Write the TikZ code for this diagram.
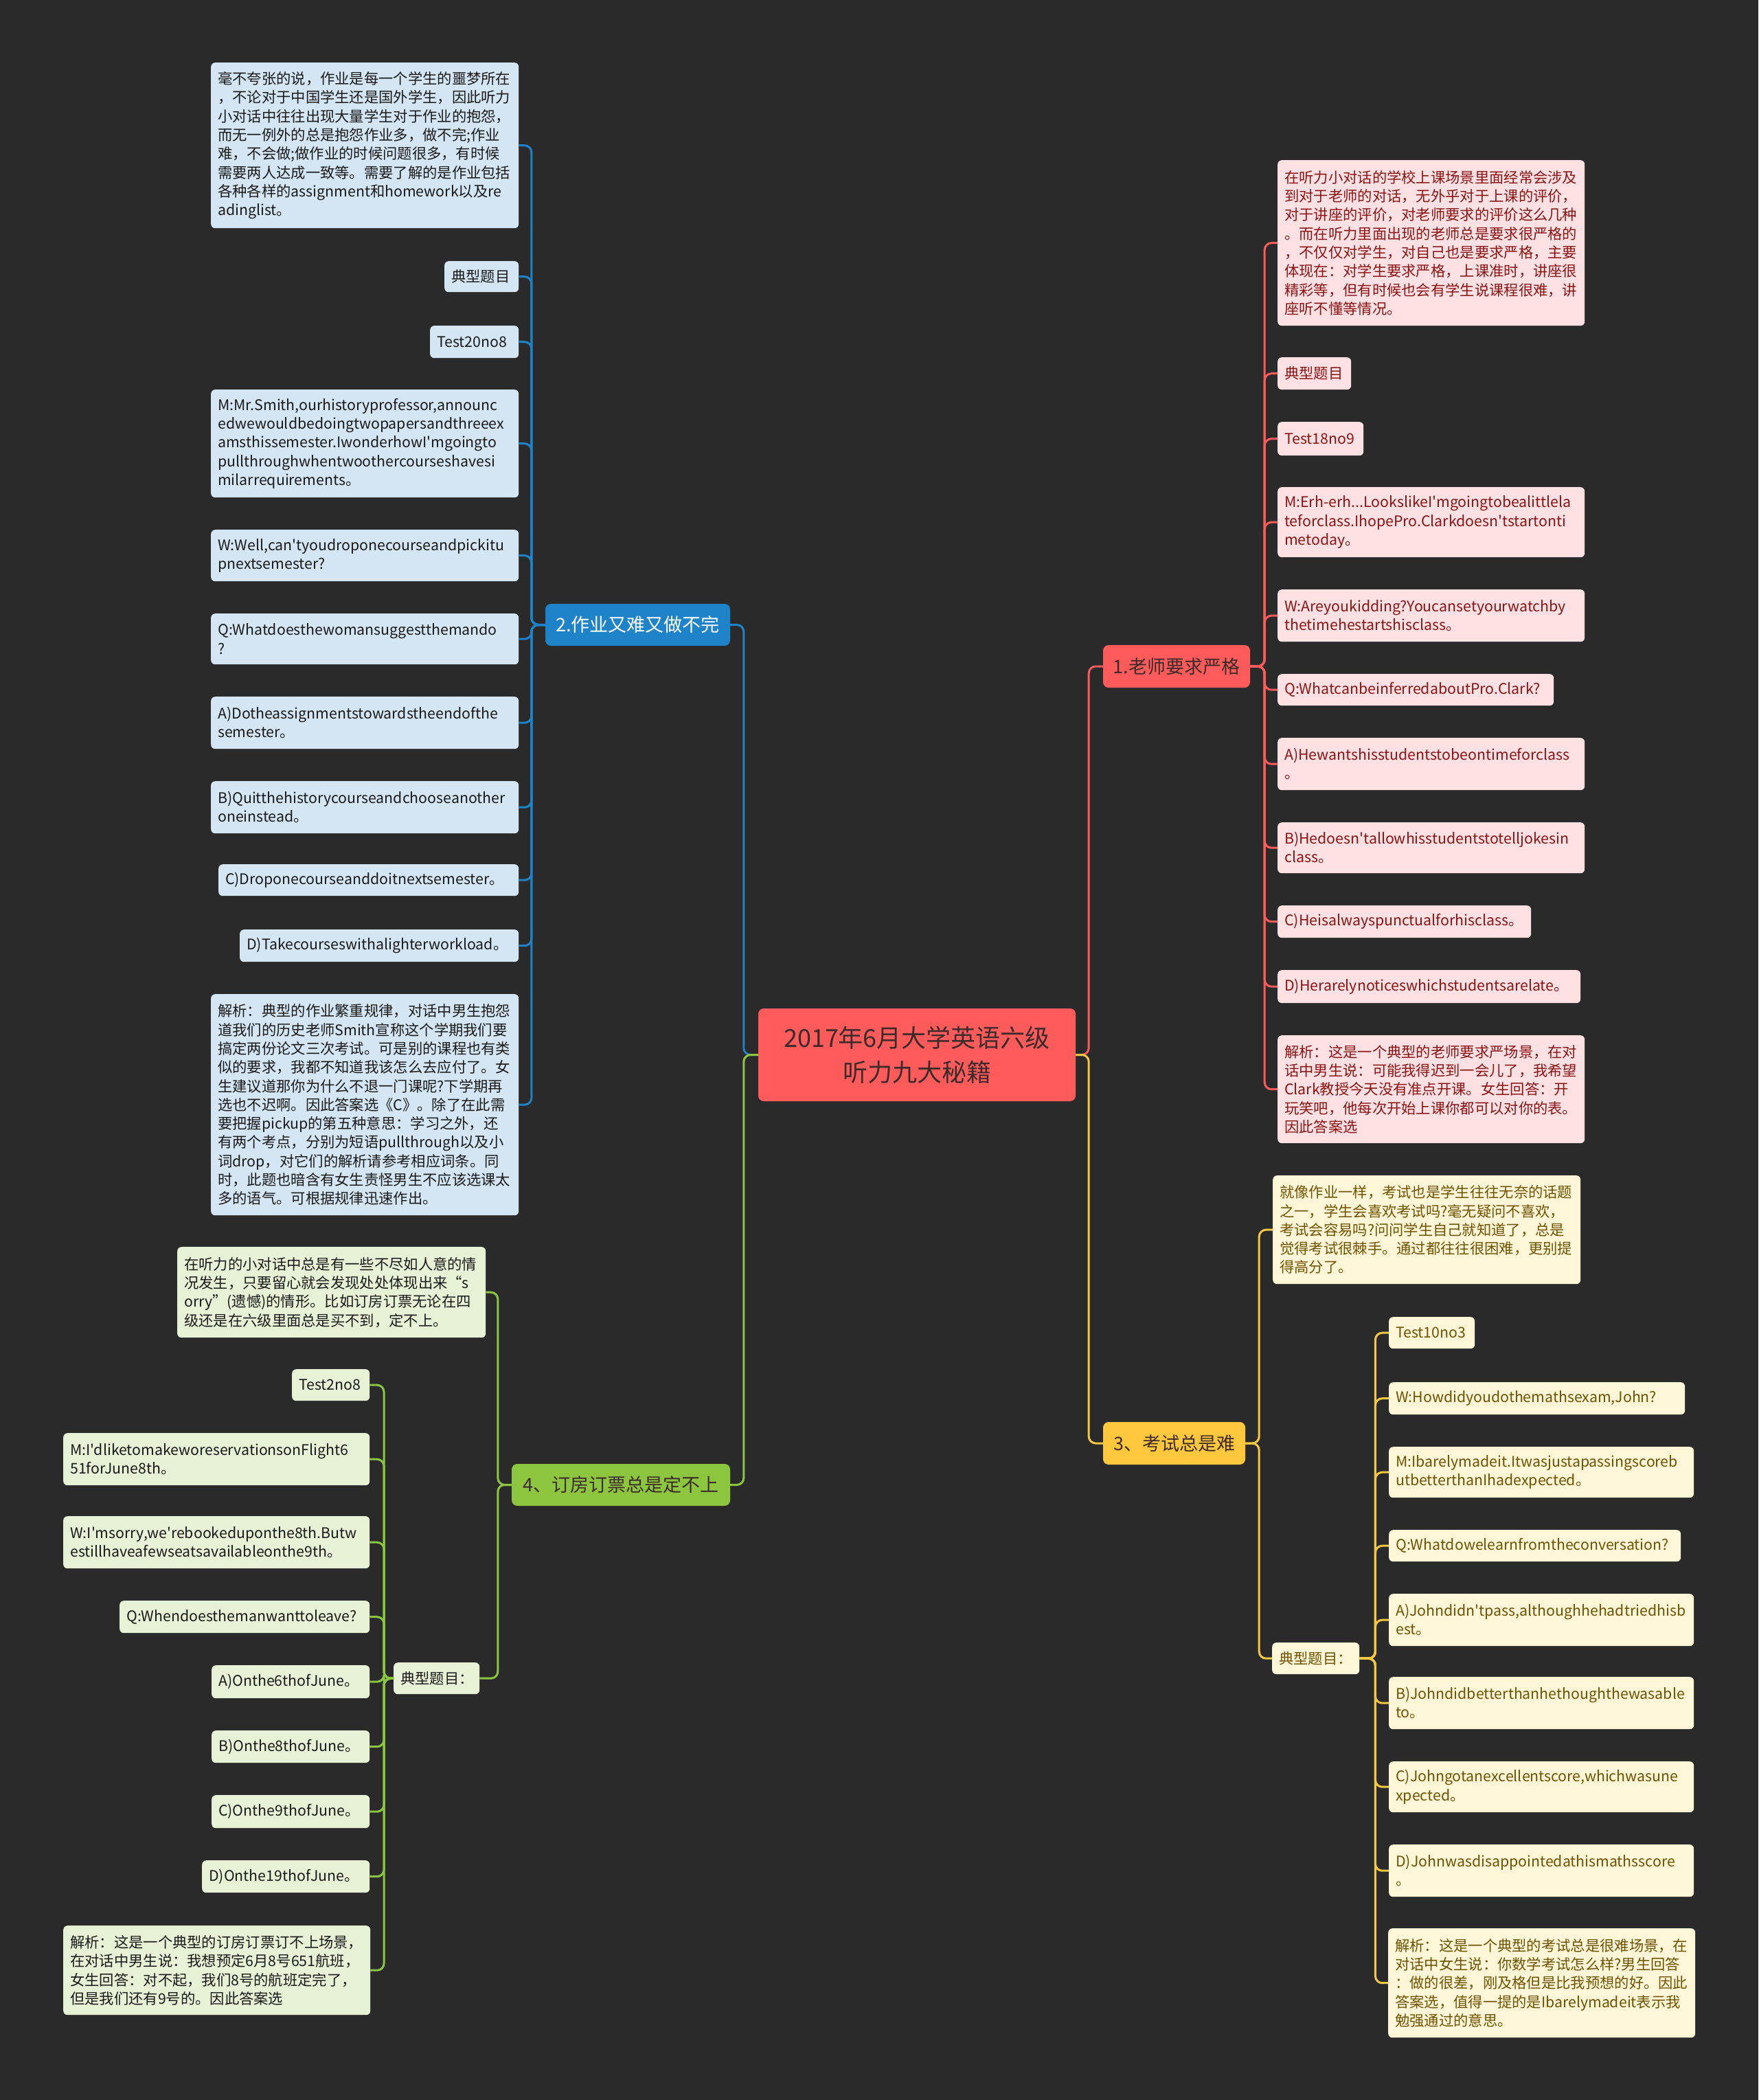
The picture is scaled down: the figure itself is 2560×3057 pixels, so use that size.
\documentclass[tikz,border=0pt]{standalone}
\usepackage{fontspec}
\setmainfont{Noto Sans CJK SC}
\newfontfamily\cjkf{Noto Sans CJK SC}
\definecolor{bgc}{HTML}{2A2A2A}
\definecolor{redF}{HTML}{FF5B5B}
\definecolor{darkT}{HTML}{3D2B2B}
\definecolor{blueF}{HTML}{1F83C9}
\definecolor{yelF}{HTML}{FFC83C}
\definecolor{yelL}{HTML}{F5C842}
\definecolor{grnF}{HTML}{8CC63F}
\definecolor{pkF}{HTML}{FFE1E4}
\definecolor{pkT}{HTML}{8A1414}
\definecolor{lbF}{HTML}{D4E6F3}
\definecolor{lyF}{HTML}{FFF6D8}
\definecolor{lyT}{HTML}{6E5200}
\definecolor{lgF}{HTML}{E6F1D5}
\definecolor{leafT}{HTML}{1A1A1A}
\newcommand\mmleaf[6]{\node[#1, minimum width=#4, minimum height=#5, text width=\the\numexpr#4-20\relax pt] (#2) at (#3) {#6};}
\begin{document}
\begin{tikzpicture}[x=1pt,y=-1pt,
  leaf/.style={anchor=north west, rounded corners=6, inner xsep=10, inner ysep=4, align=left, font=\cjkf\fontsize{21.3pt}{27.3pt}\selectfont},
  lp/.style={leaf, fill=pkF, text=pkT},
  lb/.style={leaf, fill=lbF, text=leafT},
  ly/.style={leaf, fill=lyF, text=lyT},
  lg/.style={leaf, fill=lgF, text=leafT},
  br/.style={rounded corners=8, inner sep=0, align=center, font=\cjkf\fontsize{27pt}{32pt}\selectfont},
  cn/.style={line width=3, rounded corners=10},
  cR/.style={cn, draw=redF},
  cB/.style={cn, draw=blueF},
  cY/.style={cn, draw=yelL},
  cG/.style={cn, draw=grnF}]
\fill[bgc] (0,0) rectangle (2560,3057);
\useasboundingbox (0,0) rectangle (2560,3057);

% central and main branches
\node[br, fill=redF, text=darkT, minimum width=462, minimum height=135, font=\cjkf\fontsize{36pt}{50pt}\selectfont] (c) at (1335,1535.5) {2017年6月大学英语六级\\听力九大秘籍};
\node[br, fill=redF, text=darkT, minimum width=214, minimum height=62] (b1) at (1713,970) {1.老师要求严格};
\node[br, fill=blueF, text=white, minimum width=269, minimum height=61] (b2) at (928.5,909.5) {2.作业又难又做不完};
\node[br, fill=yelF, text=darkT, minimum width=207, minimum height=62] (b3) at (1709.5,2101) {3、考试总是难};
\node[br, fill=grnF, text=darkT, minimum width=318, minimum height=61] (b4) at (904,2161.5) {4、订房订票总是定不上};

% branch 1 leaves
\mmleaf{lp}{l1a}{1860,233}{447}{241}{在听力小对话的学校上课场景里面经常会涉及\\到对于老师的对话，无外乎对于上课的评价，\\对于讲座的评价，对老师要求的评价这么几种\\。而在听力里面出现的老师总是要求很严格的\\，不仅仅对学生，对自己也是要求严格，主要\\体现在：对学生要求严格，上课准时，讲座很\\精彩等，但有时候也会有学生说课程很难，讲\\座听不懂等情况。}
\mmleaf{lp}{l1b}{1860,520}{107}{47}{典型题目}
\mmleaf{lp}{l1c}{1860,614}{125}{49}{Test18no9}
\mmleaf{lp}{l1d}{1860,709}{447}{102}{M:Erh-erh...LookslikeI'mgoingtobealittlela\\teforclass.IhopePro.Clarkdoesn'tstartonti\\metoday。}
\mmleaf{lp}{l1e}{1860,858}{447}{76}{W:Areyoukidding?Youcansetyourwatchby\\thetimehestartshisclass。}
\mmleaf{lp}{l1f}{1860,981}{402}{46}{Q:WhatcanbeinferredaboutPro.Clark?}
\mmleaf{lp}{l1g}{1860,1074}{447}{76}{A)Hewantshisstudentstobeontimeforclass\\。}
\mmleaf{lp}{l1h}{1860,1197}{447}{74}{B)Hedoesn'tallowhisstudentstotelljokesin\\class。}
\mmleaf{lp}{l1i}{1860,1318}{369}{47}{C)Heisalwayspunctualforhisclass。}
\mmleaf{lp}{l1j}{1860,1412}{441}{48}{D)Herarelynoticeswhichstudentsarelate。}
\mmleaf{lp}{l1k}{1860,1507}{447}{157}{解析：这是一个典型的老师要求严场景，在对\\话中男生说：可能我得迟到一会儿了，我希望\\Clark教授今天没有准点开课。女生回答：开\\玩笑吧，他每次开始上课你都可以对你的表。\\因此答案选}

% branch 2 leaves
\mmleaf{lb}{l2a}{307,91}{448}{241}{毫不夸张的说，作业是每一个学生的噩梦所在\\，不论对于中国学生还是国外学生，因此听力\\小对话中往往出现大量学生对于作业的抱怨，\\而无一例外的总是抱怨作业多，做不完;作业\\难，不会做;做作业的时候问题很多，有时候\\需要两人达成一致等。需要了解的是作业包括\\各种各样的assignment和homework以及re\\adinglist。}
\mmleaf{lb}{l2b}{647,380}{108}{45}{典型题目}
\mmleaf{lb}{l2c}{626,474}{129}{47}{Test20no8}
\mmleaf{lb}{l2d}{307,567}{448}{157}{M:Mr.Smith,ourhistoryprofessor,announc\\edwewouldbedoingtwopapersandthreeex\\amsthissemester.IwonderhowI'mgoingto\\pullthroughwhentwoothercourseshavesi\\milarrequirements。}
\mmleaf{lb}{l2e}{307,771}{448}{75}{W:Well,can'tyoudroponecourseandpickitu\\pnextsemester?}
\mmleaf{lb}{l2f}{307,893}{448}{74}{Q:Whatdoesthewomansuggestthemando\\?}
\mmleaf{lb}{l2g}{307,1014}{448}{76}{A)Dotheassignmentstowardstheendofthe\\semester。}
\mmleaf{lb}{l2h}{307,1137}{448}{76}{B)Quitthehistorycourseandchooseanother\\oneinstead。}
\mmleaf{lb}{l2i}{318,1258}{437}{46}{C)Droponecourseanddoitnextsemester。}
\mmleaf{lb}{l2j}{349,1353}{406}{47}{D)Takecourseswithalighterworkload。}
\mmleaf{lb}{l2k}{307,1447}{448}{322}{解析：典型的作业繁重规律，对话中男生抱怨\\道我们的历史老师Smith宣称这个学期我们要\\搞定两份论文三次考试。可是别的课程也有类\\似的要求，我都不知道我该怎么去应付了。女\\生建议道那你为什么不退一门课呢?下学期再\\选也不迟啊。因此答案选《C》。除了在此需\\要把握pickup的第五种意思：学习之外，还\\有两个考点，分别为短语pullthrough以及小\\词drop，对它们的解析请参考相应词条。同\\时，此题也暗含有女生责怪男生不应该选课太\\多的语气。可根据规律迅速作出。}

% branch 3 leaves
\mmleaf{ly}{l3a}{1853,1711}{448}{158}{就像作业一样，考试也是学生往往无奈的话题\\之一，学生会喜欢考试吗?毫无疑问不喜欢，\\考试会容易吗?问问学生自己就知道了，总是\\觉得考试很棘手。通过都往往很困难，更别提\\得高分了。}
\mmleaf{ly}{l3b}{1852,2391}{127}{46}{典型题目：}
\mmleaf{ly}{s3a}{2022,1917}{125}{46}{Test10no3}
\mmleaf{ly}{s3b}{2022,2012}{431}{47}{W:Howdidyoudothemathsexam,John?}
\mmleaf{ly}{s3c}{2022,2106}{444}{74}{M:Ibarelymadeit.Itwasjustapassingscoreb\\utbetterthanIhadexpected。}
\mmleaf{ly}{s3d}{2022,2227}{425}{46}{Q:Whatdowelearnfromtheconversation?}
\mmleaf{ly}{s3e}{2022,2320}{444}{76}{A)Johndidn'tpass,althoughhehadtriedhisb\\est。}
\mmleaf{ly}{s3f}{2022,2441}{444}{76}{B)Johndidbetterthanhethoughthewasable\\to。}
\mmleaf{ly}{s3g}{2022,2564}{444}{74}{C)Johngotanexcellentscore,whichwasune\\xpected。}
\mmleaf{ly}{s3h}{2022,2685}{444}{76}{D)Johnwasdisappointedathismathsscore\\。}
\mmleaf{ly}{s3i}{2021,2807}{447}{159}{解析：这是一个典型的考试总是很难场景，在\\对话中女生说：你数学考试怎么样?男生回答\\：做的很差，刚及格但是比我预想的好。因此\\答案选，值得一提的是Ibarelymadeit表示我\\勉强通过的意思。}

% branch 4 leaves
\mmleaf{lg}{l4a}{258,1815}{449}{132}{在听力的小对话中总是有一些不尽如人意的情\\况发生，只要留心就会发现处处体现出来“s\\orry”(遗憾)的情形。比如订房订票无论在四\\级还是在六级里面总是买不到，定不上。}
\mmleaf{lg}{l4b}{573,2420}{125}{46}{典型题目：}
\mmleaf{lg}{s4a}{425,1993}{113}{46}{Test2no8}
\mmleaf{lg}{s4b}{92,2086}{446}{76}{M:I'dliketomakeworeservationsonFlight6\\51forJune8th。}
\mmleaf{lg}{s4c}{92,2207}{446}{76}{W:I'msorry,we'rebookeduponthe8th.Butw\\estillhaveafewseatsavailableonthe9th。}
\mmleaf{lg}{s4d}{174,2330}{364}{47}{Q:Whendoesthemanwanttoleave?}
\mmleaf{lg}{s4e}{308,2424}{230}{48}{A)Onthe6thofJune。}
\mmleaf{lg}{s4f}{308,2519}{230}{47}{B)Onthe8thofJune。}
\mmleaf{lg}{s4g}{308,2613}{230}{48}{C)Onthe9thofJune。}
\mmleaf{lg}{s4h}{294,2708}{244}{47}{D)Onthe19thofJune。}
\mmleaf{lg}{s4i}{92,2803}{447}{130}{解析：这是一个典型的订房订票订不上场景，\\在对话中男生说：我想预定6月8号651航班，\\女生回答：对不起，我们8号的航班定完了，\\但是我们还有9号的。因此答案选}

% connectors
\draw[cR] (c.east) -- ++(19,0) |- (b1.west);
\draw[cY] (c.east) -- ++(19,0) |- (b3.west);
\draw[cB] (c.west) -- ++(-21,0) |- (b2.east);
\draw[cG] (c.west) -- ++(-21,0) |- (b4.east);
\foreach \n in {l1a,l1b,l1c,l1d,l1e,l1f,l1g,l1h,l1i,l1j,l1k}
  \draw[cR] (b1.east) -- ++(21,0) |- (\n.west);
\foreach \n in {l2a,l2b,l2c,l2d,l2e,l2f,l2g,l2h,l2i,l2j,l2k}
  \draw[cB] (b2.west) -- ++(-20,0) |- (\n.east);
\foreach \n in {l3a,l3b}
  \draw[cY] (b3.east) -- ++(20,0) |- (\n.west);
\foreach \n in {s3a,s3b,s3c,s3d,s3e,s3f,s3g,s3h,s3i}
  \draw[cY] (l3b.east) -- ++(23,0) |- (\n.west);
\foreach \n in {l4a,l4b}
  \draw[cG] (b4.west) -- ++(-20,0) |- (\n.east);
\foreach \n in {s4a,s4b,s4c,s4d,s4e,s4f,s4g,s4h,s4i}
  \draw[cG] (l4b.west) -- ++(-14,0) |- (\n.east);
\end{tikzpicture}
\end{document}
